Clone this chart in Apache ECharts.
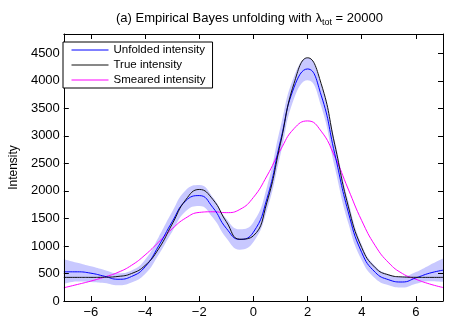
<!DOCTYPE html>
<html><head><meta charset="utf-8">
<script src="https://cdn.jsdelivr.net/npm/echarts@6/dist/echarts.min.js"></script>
<style>html,body{margin:0;padding:0;background:#fff}#c{width:452px;height:319px}</style>
</head><body><div id="c"></div>
<script>
const xValues = [-7,-6.5,-6,-5.5,-5,-4.5,-4,-3.5,-3,-2.5,-2,-1.5,-1,-0.5,0,0.5,1,1.5,2,2.5,3,3.5,4,4.5,5,5.5,6,6.5,7];
const trueIntensity = [429,429,429,432,446,499,645,947,1397,1837,2026,1846,1441,1122,1185,1794,2866,3953,4418,3950,2849,1724,969,604,473,437,430,429,429];
const unfoldedIntensity = [530,530,505,450,395,445,620,1000,1440,1820,1915,1700,1320,1118,1250,1860,2910,3880,4215,3740,2680,1620,880,520,385,345,420,505,560];
const bandLower = [310,355,345,325,285,335,490,840,1260,1630,1725,1515,1145,933,1070,1650,2660,3680,4010,3540,2440,1420,740,410,285,245,315,360,350];
const bandUpper = [760,695,630,565,505,555,750,1160,1620,2010,2105,1885,1495,1303,1430,2070,3160,4080,4420,3940,2920,1820,1020,630,485,445,525,650,770];
const smearedIntensity = [240,300,362,435,520,648,836,1070,1312,1507,1609,1621,1605,1663,1882,2272,2745,3132,3271,3086,2627,2034,1459,1003,692,499,395,310,245];
const xTicks = [-6,-4,-2,0,2,4,6];
const yTicks = [0,500,1000,1500,2000,2500,3000,3500,4000,4500];

const FONT = '"Liberation Sans", Arial, Helvetica, sans-serif';
const pairs = arr => xValues.map((x, i) => [x, arr[i]]);

const lineBlack = {color: '#000', width: 1};
function xAx(pos, labels) {
  return {
    type: 'value', min: -7, max: 7, position: pos, z: 10,
    axisLine: {show: true, onZero: false, lineStyle: lineBlack},
    axisTick: {show: true, inside: true, length: 5, lineStyle: lineBlack, customValues: xTicks},
    axisLabel: {show: labels, customValues: xTicks, color: '#000', fontSize: 13, fontFamily: FONT, margin: 5,
      formatter: v => String(v).replace('-', '\u2212')},
    splitLine: {show: false}
  };
}
function yAx(pos, labels) {
  const a = {
    type: 'value', min: 0, max: 4850, position: pos, z: 10,
    axisLine: {show: true, onZero: false, lineStyle: lineBlack},
    axisTick: {show: true, inside: true, length: 5, lineStyle: lineBlack, customValues: yTicks},
    axisLabel: {show: labels, customValues: yTicks, color: '#000', fontSize: 13, fontFamily: FONT, margin: 4,
      formatter: v => String(v)},
    splitLine: {show: false}
  };
  if (labels) {
    a.name = 'Intensity';
    a.nameLocation = 'middle';
    a.nameGap = 43;
    a.nameTextStyle = {color: '#000', fontSize: 12, fontFamily: FONT};
  }
  return a;
}

const chart = echarts.init(document.getElementById('c'));
chart.setOption({
  animation: false,
  backgroundColor: '#fff',
  title: {
    text: '(a) Empirical Bayes unfolding with \u03bb{s|tot} = 20000',
    left: 111, top: 4,
    textStyle: {color: '#000', fontSize: 13, fontWeight: 'normal', fontFamily: FONT, lineHeight: 18,
      rich: {s: {fontSize: 9, fontFamily: FONT, color: '#000', verticalAlign: 'bottom', lineHeight: 9}}}
  },
  grid: {left: 57, right: 9, top: 34, bottom: 16, containLabel: false},
  legend: {
    data: ['Unfolded intensity', 'True intensity', 'Smeared intensity'],
    orient: 'vertical', left: 63, top: 42, z: 12,
    itemWidth: 37, itemHeight: 12, itemGap: 3, padding: [2, 7, 2, 8],
    borderColor: '#000', borderWidth: 1, borderRadius: 0, backgroundColor: '#fff',
    itemStyle: {opacity: 0},
    lineStyle: {width: 1},
    textStyle: {color: '#000', fontSize: 11.5, fontFamily: FONT}
  },
  xAxis: [xAx('bottom', true), xAx('top', false)],
  yAxis: [yAx('left', true), yAx('right', false)],
  series: [
    {name: 'bandUpper', type: 'line', data: pairs(bandUpper), symbol: 'none', smooth: true,
      lineStyle: {width: 0, opacity: 0}, areaStyle: {color: '#c8c8ff', opacity: 1, origin: 'start'}, silent: true, z: 1},
    {name: 'bandLower', type: 'line', data: pairs(bandLower), symbol: 'none', smooth: true,
      lineStyle: {width: 0, opacity: 0}, areaStyle: {color: '#ffffff', opacity: 1, origin: 'start'}, silent: true, z: 2},
    {name: 'Smeared intensity', type: 'line', data: pairs(smearedIntensity), symbol: 'none', smooth: true,
      lineStyle: {color: '#ff00ff', width: 1}, itemStyle: {color: '#ff00ff'}, z: 3},
    {name: 'Unfolded intensity', type: 'line', data: pairs(unfoldedIntensity), symbol: 'none', smooth: true,
      lineStyle: {color: '#0000ff', width: 1}, itemStyle: {color: '#0000ff'}, z: 4},
    {name: 'True intensity', type: 'line', data: pairs(trueIntensity), symbol: 'none', smooth: true,
      lineStyle: {color: '#111', width: 1}, itemStyle: {color: '#111'}, z: 5}
  ]
});
</script></body></html>
